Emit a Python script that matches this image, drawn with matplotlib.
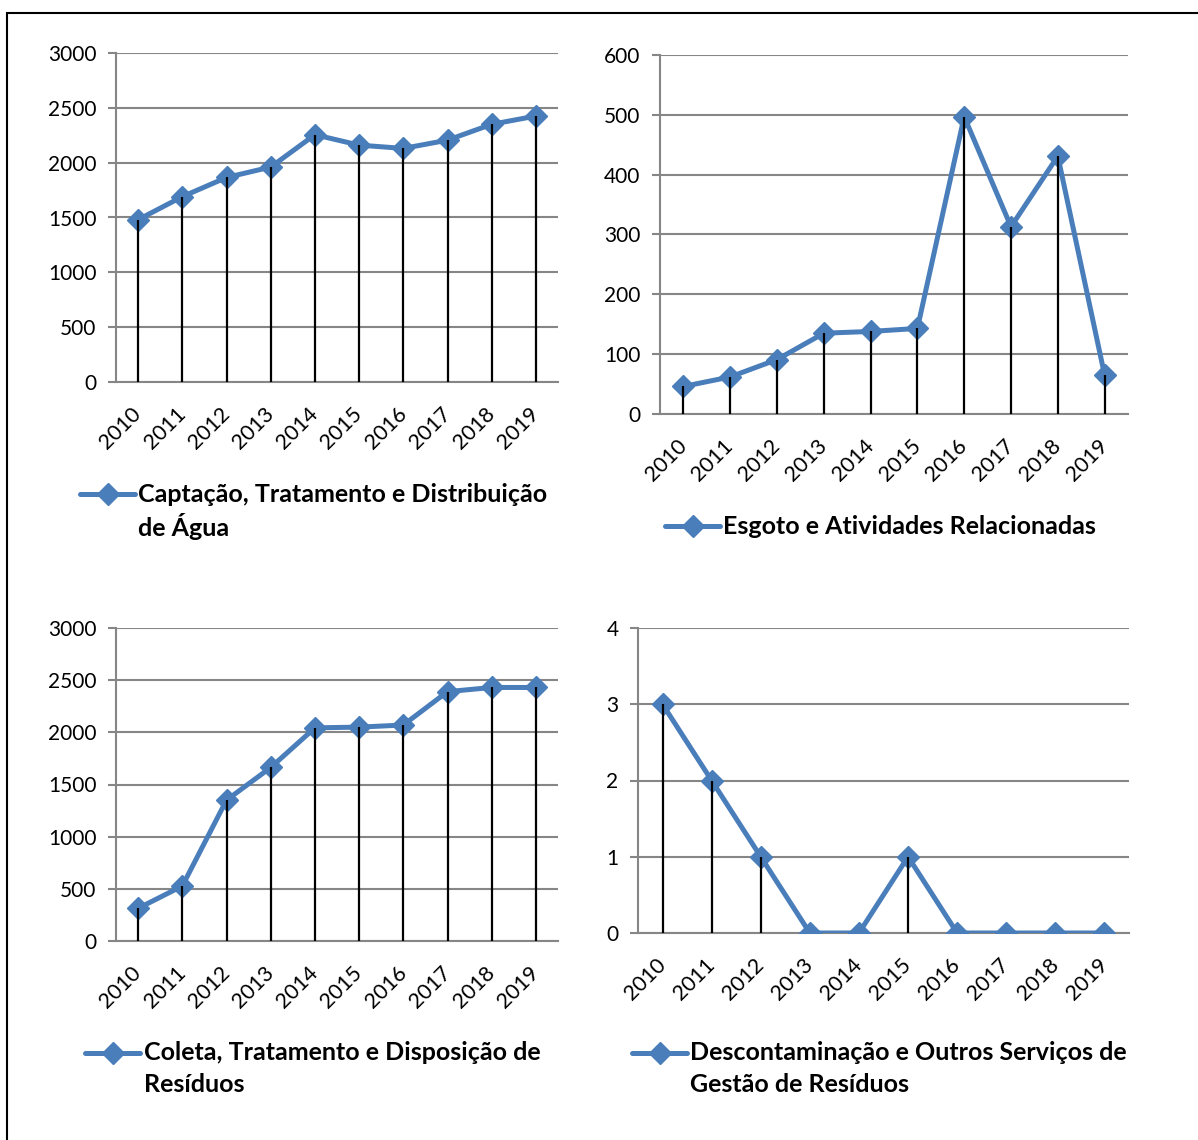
import matplotlib
matplotlib.use("Agg")
import matplotlib.pyplot as plt
from matplotlib.lines import Line2D
from matplotlib.patches import Rectangle
from matplotlib.transforms import ScaledTranslation

plt.rcParams['font.family'] = ['Lato', 'DejaVu Sans']

# data
anos = ['2010', '2011', '2012', '2013', '2014', '2015', '2016', '2017', '2018', '2019']
agua = [1480, 1690, 1865, 1960, 2255, 2160, 2130, 2205, 2350, 2425]
esgoto = [46, 62, 91, 135, 138, 143, 497, 313, 431, 65]
residuos = [313, 527, 1350, 1663, 2043, 2050, 2070, 2390, 2430, 2430]
descontaminacao = [3, 2, 1, 0, 0, 1, 0, 0, 0, 0]

titulos = [
    ['Captação, Tratamento e Distribuição', 'de Água'],
    ['Esgoto e Atividades Relacionadas'],
    ['Coleta, Tratamento e Disposição de', 'Resíduos'],
    ['Descontaminação e Outros Serviços de', 'Gestão de Resíduos'],
]

W, H = 1198, 1140
fig = plt.figure(figsize=(W / 100, H / 100), dpi=100)

azul = '#4A7EBB'
cinza = '#868686'

# axes boxes in pixels: left, top, right, bottom
caixas = [(116, 53, 558, 382), (660, 55, 1128, 414),
          (116, 628, 558, 941), (638, 628, 1129, 933)]
limites = [(3000, 500), (600, 100), (3000, 500), (4, 1)]
series = [agua, esgoto, residuos, descontaminacao]
# legend: line start x, line end x, text x, first line y
legendas = [(80, 135, 138, 494), (665, 720, 723, 526),
            (85, 140, 144, 1053), (632, 687, 690, 1053)]

for caixa, lim, valores, titulo, leg in zip(caixas, limites, series, titulos, legendas):
    l, t, r, b = caixa
    ax = fig.add_axes([l / W, 1 - b / H, (r - l) / W, (b - t) / H])
    x = list(range(len(anos)))
    ax.vlines(x, 0, valores, color='black', lw=1.6, zorder=4)
    ax.plot(x, valores, color=azul, lw=3.6, marker='D', markersize=11.5, zorder=3)
    ax.set_xlim(-0.5, len(anos) - 0.5)
    ax.set_ylim(0, lim[0])
    ax.set_yticks(range(0, lim[0] + 1, lim[1]))
    ax.yaxis.grid(True, color=cinza, lw=1.5)
    ax.set_axisbelow(True)
    ax.set_xticks(x)
    ax.set_xticklabels(anos, rotation=45, ha='right', va='center', rotation_mode='anchor')
    desloc = ScaledTranslation(5 / 100, 0, fig.dpi_scale_trans)
    for rot in ax.get_xticklabels():
        rot.set_transform(rot.get_transform() + desloc)
    ax.tick_params(axis='x', length=0, pad=21, labelsize=15.5)
    ax.tick_params(axis='y', length=6, width=1.5, color=cinza, direction='out', pad=8, labelsize=15)
    for s in ['top', 'right']:
        ax.spines[s].set_visible(False)
    for s in ['left', 'bottom']:
        ax.spines[s].set_color(cinza)
        ax.spines[s].set_linewidth(1.5)

    x0, x1, xt, yt = leg
    fig.add_artist(Line2D([x0 / W, x1 / W], [1 - yt / H, 1 - yt / H], color=azul, lw=3.6,
                          solid_capstyle='round'))
    fig.add_artist(Line2D([(x0 + x1) / 2 / W], [1 - yt / H], color=azul, marker='D', markersize=11))
    for i, linha in enumerate(titulo):
        fig.text(xt / W, 1 - (yt + 32 * i) / H, linha, fontsize=18, fontweight='bold',
                 va='center', ha='left')

fig.add_artist(Rectangle((7 / W, 1 - 1150 / H), 1200 / W, 1137 / H, fill=False, ec='black', lw=1.5))

fig.savefig('out.png', dpi=100)
